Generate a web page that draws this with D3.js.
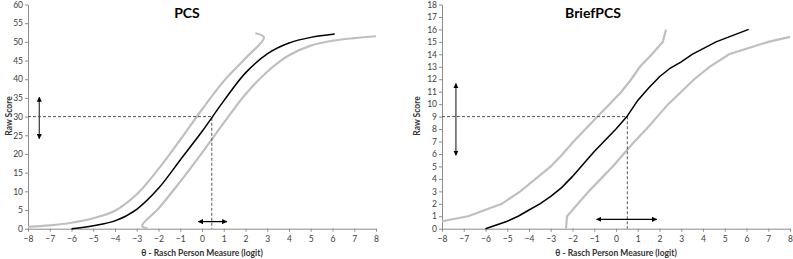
<!DOCTYPE html>
<html><head><meta charset="utf-8">
<script src="https://cdn.jsdelivr.net/npm/d3@7"></script>
<style>body{margin:0;background:#fff}svg{display:block}</style>
</head><body>
<svg id="c" width="793" height="259"></svg>
<script>
// ---- data ----
const xTicks = d3.range(-8, 9, 1);
const pcsYTicks = d3.range(0, 61, 5);
const briefYTicks = d3.range(0, 19, 1);

const pcsMain = [[-6,0],[-5,0.8],[-4,2.1],[-3,5.2],[-2,10.8],[-1,18.4],[0,26],[1,34.2],[2,41.7],[3,46.8],[4,49.7],[5,51.2],[6.1,52.1]];
const pcsUpper = [[-8,0.5],[-7,0.9],[-6,1.6],[-5,2.8],[-4,4.8],[-3,9.2],[-2,16],[-1,23.8],[0,31.9],[1,39.5],[2,45.6],[2.85,51.2],[2.45,52.3]];
const pcsLower = [[-2.5,0],[-2.75,0.8],[-2,5.4],[-1,12.6],[0,20.3],[1,28.3],[2,36],[3,42],[4,46.4],[5,49],[6,50.3],[7,51],[8,51.5]];
const pcsRef = {x: 0.45, y: 30};
const pcsVArrow = {x: -7.48, y0: 24.1, y1: 35.2};
const pcsHArrow = {y: 1.9, x0: -0.17, x1: 1.14};

const briefMain = [[-6,0],[-5,0.6],[-4.5,1],[-4,1.5],[-3.5,2],[-3,2.6],[-2.5,3.3],[-2,4.2],[-1.5,5.2],[-1,6.2],[-0.5,7.1],[0,8],[0.5,9],[1,10.3],[1.5,11.3],[2,12.2],[2.5,12.9],[3,13.4],[3.5,14],[4.6,15],[6.1,16]];
const briefUpper = [[-8,0.6],[-6.8,1],[-5.25,2],[-4.4,3],[-3.7,4],[-3,5],[-2.45,6],[-1.95,7],[-1.4,8],[-0.85,9],[-0.3,10],[0.25,11],[0.7,12],[1.1,13],[1.65,14],[2.15,15],[2.3,16]];
const briefLower = [[-2.3,0],[-2.25,1],[-1.75,2],[-1.25,3],[-0.7,4],[-0.15,5],[0.35,6],[0.85,7],[1.4,8],[1.9,9],[2.4,10],[3,11],[3.6,12],[4.3,13],[5.2,14],[7,15],[8,15.4]];
const briefRef = {x: 0.52, y: 9};
const briefVArrow = {x: -7.36, y0: 5.9, y1: 11.65};
const briefHArrow = {y: 0.75, x0: -0.89, x1: 1.87};

const titles = ["PCS", "BriefPCS"];
const xTitle = "θ - Rasch Person Measure (logit)";
const yTitle = "Raw Score";

// ---- drawing ----
const svg = d3.select("#c");
const defs = svg.append("defs");
defs.append("marker").attr("id","ah").attr("viewBox","0 0 10 10").attr("refX",9).attr("refY",5)
  .attr("markerWidth",4).attr("markerHeight",4).attr("orient","auto-start-reverse")
  .append("path").attr("d","M0,0L10,5L0,10z").attr("fill","#000");

const FONT = "Lato, 'Liberation Sans', sans-serif";

const panels = [
  {title: titles[0], yTicks: pcsYTicks, ymax: 60, x0: 28, x1: 376, main: pcsMain, upper: pcsUpper, lower: pcsLower, ref: pcsRef, va: pcsVArrow, ha: pcsHArrow, yTitleX: 12, titleX: 187, smooth: true},
  {title: titles[1], yTicks: briefYTicks, ymax: 18, x0: 442, x1: 790, main: briefMain, upper: briefUpper, lower: briefLower, ref: briefRef, va: briefVArrow, ha: briefHArrow, yTitleX: 420, titleX: 593, smooth: false}
];

panels.forEach(p => {
  const x = d3.scaleLinear().domain([-8, 8]).range([p.x0, p.x1]);
  const y = d3.scaleLinear().domain([0, p.ymax]).range([228.7, 4.5]);
  const g = svg.append("g");

  const xa = g.append("g").attr("transform", `translate(0,${y(0)})`)
    .call(d3.axisBottom(x).tickValues(xTicks).tickSize(3).tickSizeOuter(0).tickFormat(d3.format("d")));
  const ya = g.append("g").attr("transform", `translate(${x(-8)},0)`)
    .call(d3.axisLeft(y).tickValues(p.yTicks).tickSize(3).tickSizeOuter(0).tickFormat(d3.format("d")));
  [xa, ya].forEach(a => {
    a.select(".domain").attr("stroke", "#8c8c8c");
    a.selectAll(".tick line").attr("stroke", "#8c8c8c");
    a.selectAll("text").attr("fill", "#404040").style("font-family", FONT).style("font-size", "8.5px");
  });
  xa.selectAll("text").attr("dy", "0.95em").attr("y", 5);
  ya.selectAll("text").attr("x", -5);

  const lineGen = d3.line().x(d => x(d[0])).y(d => y(d[1]));
  if (p.smooth) lineGen.curve(d3.curveCatmullRom.alpha(0.5));

  g.append("path").datum(p.upper).attr("d", lineGen).attr("fill","none").attr("stroke","#bfbfbf").attr("stroke-width",2.2);
  g.append("path").datum(p.lower).attr("d", lineGen).attr("fill","none").attr("stroke","#bfbfbf").attr("stroke-width",2.2);

  // dashed reference
  g.append("path").attr("d", `M${x(-8)},${y(p.ref.y)}H${x(p.ref.x)}V${y(0)}`)
    .attr("fill","none").attr("stroke","#555").attr("stroke-width",1).attr("stroke-dasharray","3,2");

  g.append("path").datum(p.main).attr("d", lineGen).attr("fill","none").attr("stroke","#000").attr("stroke-width",1.5);

  // arrows
  g.append("line").attr("x1", x(p.va.x)).attr("x2", x(p.va.x)).attr("y1", y(p.va.y0)).attr("y2", y(p.va.y1))
    .attr("stroke","#444").attr("stroke-width",1.3).attr("marker-start","url(#ah)").attr("marker-end","url(#ah)");
  g.append("line").attr("x1", x(p.ha.x0)).attr("x2", x(p.ha.x1)).attr("y1", y(p.ha.y)).attr("y2", y(p.ha.y))
    .attr("stroke","#000").attr("stroke-width",1.3).attr("marker-start","url(#ah)").attr("marker-end","url(#ah)");

  // titles
  g.append("text").attr("x", p.titleX).attr("y", 18).attr("text-anchor","middle")
    .style("font-family", FONT).style("font-weight","bold").style("font-size","14px").text(p.title);
  g.append("text").attr("x", (p.x0 + p.x1) / 2).attr("y", 256).attr("text-anchor","middle")
    .style("font-family", FONT).style("font-weight","bold").style("font-size","8.5px").attr("fill","#333").text(xTitle);
  g.append("text").attr("transform", `translate(${p.yTitleX},116) rotate(-90)`).attr("text-anchor","middle")
    .style("font-family", FONT).style("font-weight","bold").style("font-size","8.5px").attr("fill","#333").text(yTitle);
});
</script>
</body></html>
